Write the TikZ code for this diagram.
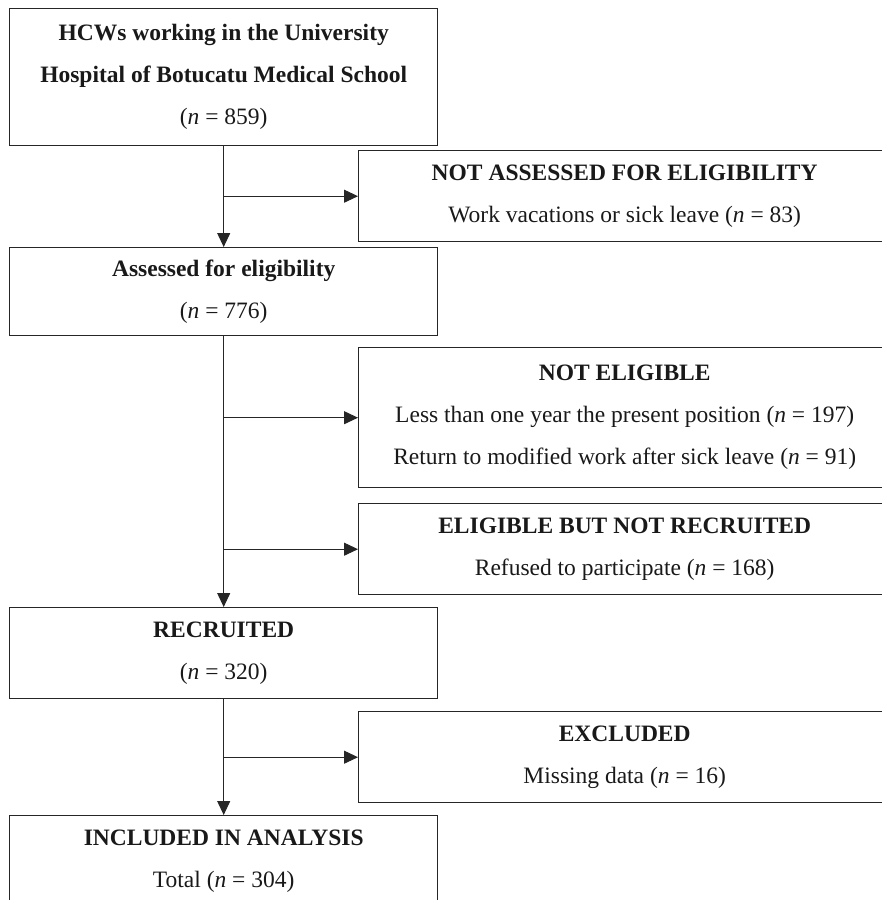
\documentclass[tikz,border=0pt]{standalone}
\usepackage{fontspec}
\setmainfont{Liberation Serif}
\usetikzlibrary{arrows.meta}
\begin{document}
\begin{tikzpicture}[x=1pt,y=1pt,
  box/.style={draw=black!85,line width=1.4pt,anchor=north west,inner sep=0pt,align=center,
    font=\fontsize{23.5}{42}\selectfont,text=black!90},
  arr/.style={draw=black!85,line width=1pt,-{Triangle[length=14pt,width=13pt]}},
  ln/.style={draw=black!85,line width=1pt}]
\useasboundingbox (0,0) rectangle (882,-900);
\clip (0,0) rectangle (882,-900);
\node[box,minimum width=428pt,minimum height=137pt] (b1) at (9,-8)
  {\textbf{HCWs working in the University}\\\textbf{Hospital of Botucatu Medical School}\\(\textit{n} = 859)};
\node[box,minimum width=532pt,minimum height=91pt] (b2) at (358,-150)
  {\textbf{NOT ASSESSED FOR ELIGIBILITY}\\Work vacations or sick leave (\textit{n} = 83)};
\node[box,minimum width=428pt,minimum height=88pt] (b3) at (9,-247)
  {\textbf{Assessed for eligibility}\\(\textit{n} = 776)};
\node[box,minimum width=532pt,minimum height=140pt] (b4) at (358,-347)
  {\textbf{NOT ELIGIBLE}\\Less than one year the present position (\textit{n} = 197)\\Return to modified work after sick leave (\textit{n} = 91)};
\node[box,minimum width=532pt,minimum height=91pt] (b5) at (358,-503)
  {\textbf{ELIGIBLE BUT NOT RECRUITED}\\Refused to participate (\textit{n} = 168)};
\node[box,minimum width=428pt,minimum height=91pt] (b6) at (9,-607)
  {\textbf{RECRUITED}\\(\textit{n} = 320)};
\node[box,minimum width=532pt,minimum height=91pt] (b7) at (358,-711)
  {\textbf{EXCLUDED}\\Missing data (\textit{n} = 16)};
\node[box,minimum width=428pt,minimum height=91pt] (b8) at (9,-815)
  {\textbf{INCLUDED IN ANALYSIS}\\Total (\textit{n} = 304)};
\draw[arr] (b1.south) -- (b3.north);
\coordinate (j1) at (b1.south |- b2.west);
\draw[arr] (j1) -- (b2.west);
\draw[arr] (b3.south) -- (b6.north);
\coordinate (j2) at (b3.south |- b4.west);
\draw[arr] (j2) -- (b4.west);
\coordinate (j3) at (b3.south |- b5.west);
\draw[arr] (j3) -- (b5.west);
\draw[arr] (b6.south) -- (b8.north);
\coordinate (j4) at (b6.south |- b7.west);
\draw[arr] (j4) -- (b7.west);
\end{tikzpicture}
\end{document}
